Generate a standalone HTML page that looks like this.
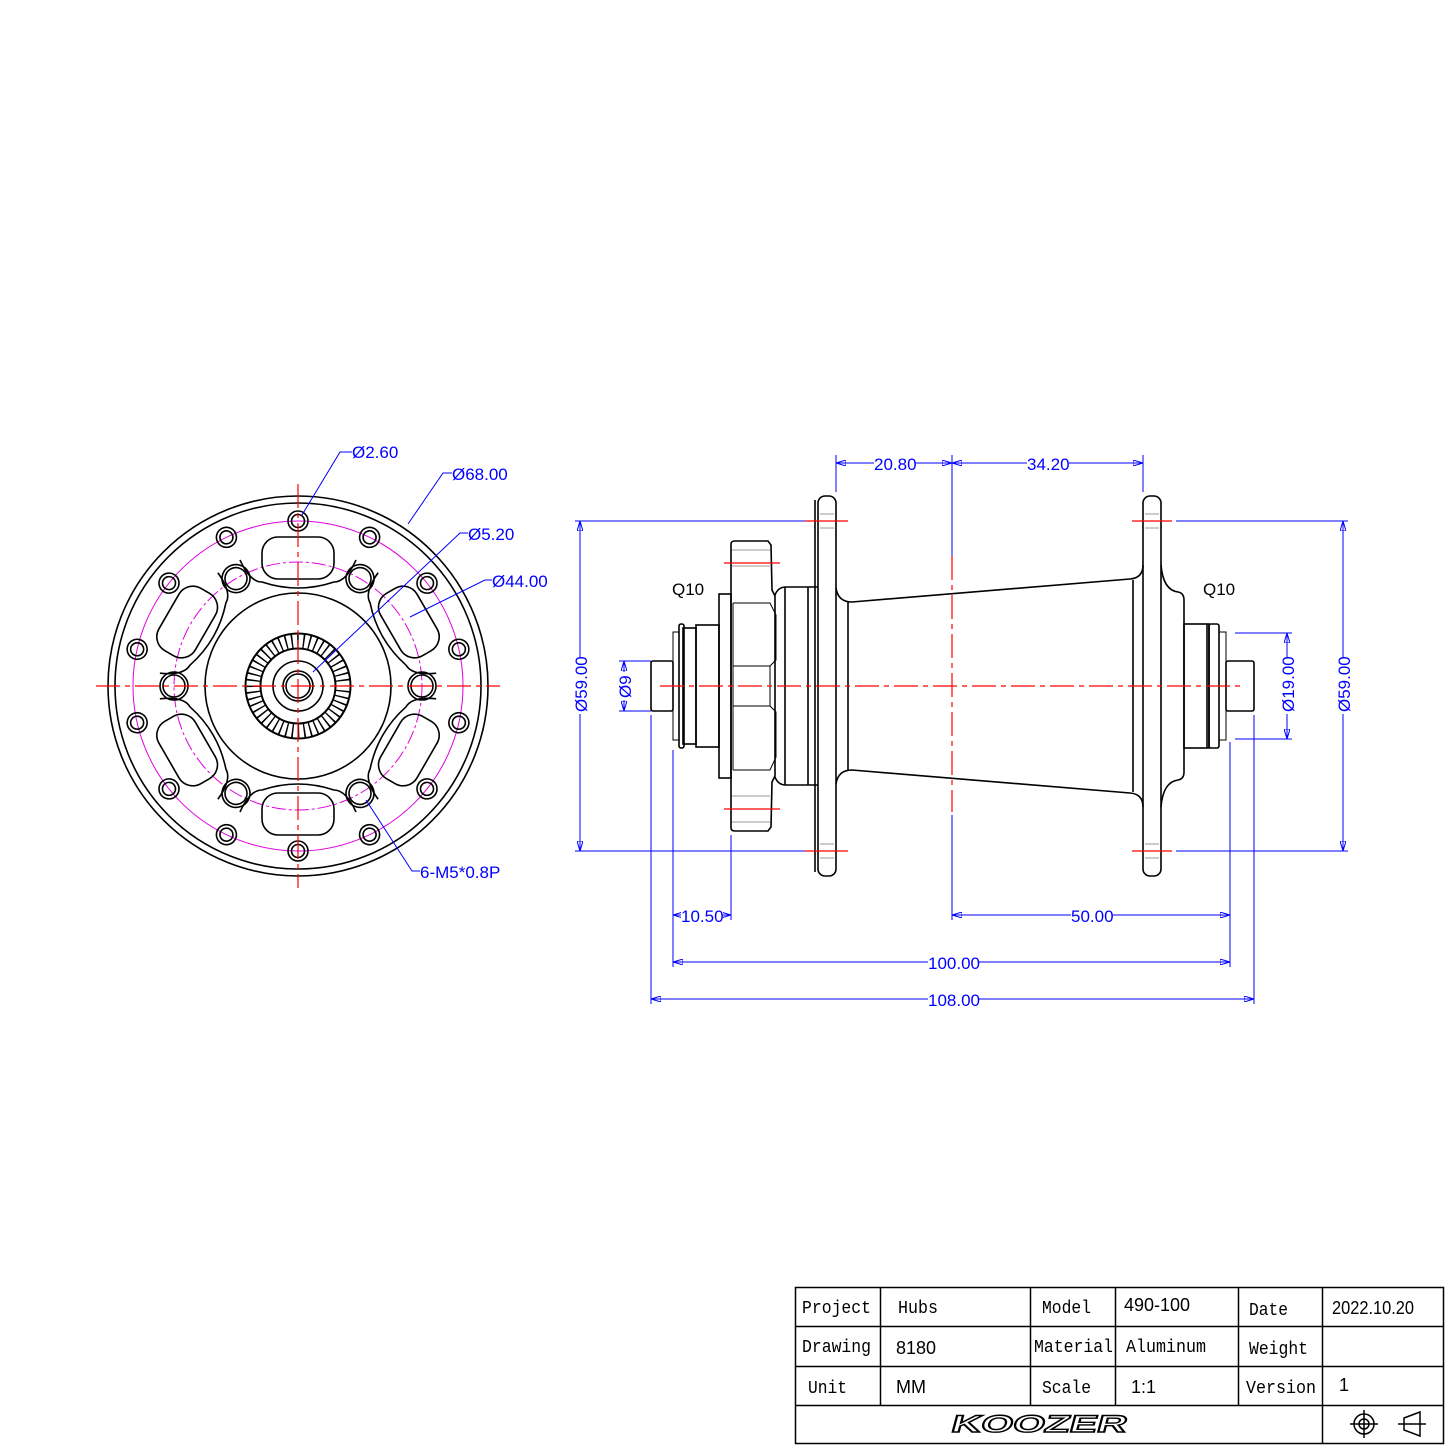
<!DOCTYPE html>
<html><head><meta charset="utf-8"><style>
html,body{margin:0;padding:0;background:#fff}
svg{display:block}
.k{fill:none;stroke:#000;stroke-width:1.6}
.kt{fill:none;stroke:#000;stroke-width:1}
.b{fill:none;stroke:#0000ff;stroke-width:1}
.r{fill:none;stroke:#ff0000;stroke-width:1.2;stroke-dasharray:24 5 5 5}
.p{fill:none;stroke:#e000e0;stroke-width:1;stroke-dasharray:14 3 3 3}
.g{fill:none;stroke:#999;stroke-width:1}
text.d{font-family:"Liberation Sans",Arial,sans-serif;font-size:17px;fill:#0000ff}
text.q{font-family:"Liberation Sans",Arial,sans-serif;font-size:17px;fill:#000}
text.m{font-family:"Liberation Mono","DejaVu Sans Mono",monospace;font-size:18px;fill:#000}
text.s{font-family:"Liberation Sans",Arial,sans-serif;font-size:18px;fill:#000}
</style></head><body>
<svg width="1445" height="1445" viewBox="0 0 1445 1445" xmlns="http://www.w3.org/2000/svg">
<defs>
<marker id="a" viewBox="0 0 10 6" refX="10" refY="3" markerWidth="10" markerHeight="6" orient="auto-start-reverse" markerUnits="userSpaceOnUse"><path d="M0,0 L10,3 L0,6 Z" fill="none" stroke="#0000ff" stroke-width="1"/></marker>
</defs>

<g transform="translate(298,686)">
<circle class="k" r="190"/>
<circle class="k" r="183"/>
<circle class="p" r="165" style="stroke-dasharray:none"/>
<circle class="p" r="124"/>
<circle class="k" r="93"/>
<g id="hole"><circle class="k" cx="0" cy="-165" r="10"/><circle class="k" cx="0" cy="-165" r="6.5"/></g>
<use href="#hole" transform="rotate(25.714)"/><use href="#hole" transform="rotate(51.43)"/><use href="#hole" transform="rotate(77.14)"/>
<use href="#hole" transform="rotate(102.86)"/><use href="#hole" transform="rotate(128.57)"/><use href="#hole" transform="rotate(154.29)"/>
<use href="#hole" transform="rotate(180)"/><use href="#hole" transform="rotate(205.71)"/><use href="#hole" transform="rotate(231.43)"/>
<use href="#hole" transform="rotate(257.14)"/><use href="#hole" transform="rotate(282.86)"/><use href="#hole" transform="rotate(308.57)"/>
<use href="#hole" transform="rotate(334.29)"/>
<g id="th"><circle class="k" cx="124" cy="0" r="14"/><circle class="k" cx="124" cy="0" r="11"/></g>
<use href="#th" transform="rotate(60)"/><use href="#th" transform="rotate(120)"/><use href="#th" transform="rotate(180)"/><use href="#th" transform="rotate(240)"/><use href="#th" transform="rotate(300)"/>
<g id="sl"><rect class="k" x="-36" y="-149" width="72" height="42" rx="16"/><path class="k" d="M-58,-126 Q-48,-104 -36,-104 Q-18,-98 0,-98 Q18,-98 36,-104 Q48,-104 58,-126"/></g>
<use href="#sl" transform="rotate(60)"/><use href="#sl" transform="rotate(120)"/><use href="#sl" transform="rotate(180)"/><use href="#sl" transform="rotate(240)"/><use href="#sl" transform="rotate(300)"/>
<circle r="45" fill="none" stroke="#000" stroke-width="17"/>
<circle r="45" fill="none" stroke="#fff" stroke-width="13" stroke-dasharray="4.4 1.5"/>
<circle class="k" r="25"/>
<circle class="k" r="15"/>
<circle class="k" r="12"/>
</g>
<line class="r" x1="96" y1="686" x2="500" y2="686"/>
<line class="r" x1="298" y1="484" x2="298" y2="888"/>

<polyline class="b" points="302,515 340,452 352,452"/><text class="d" x="352" y="458">Ø2.60</text>
<polyline class="b" points="408,524 443,473 452,473"/><text class="d" x="452" y="480">Ø68.00</text>
<polyline class="b" points="313,672 460,533 468,533"/><text class="d" x="468" y="540">Ø5.20</text>
<polyline class="b" points="410,617 485,580 492,580"/><text class="d" x="492" y="587">Ø44.00</text>
<polyline class="b" points="366,800 412,871 420,871"/><text class="d" x="420" y="878">6-M5*0.8P</text>

<rect class="k" x="818" y="496" width="18" height="380" rx="7"/>
<line class="g" x1="820" y1="514" x2="834" y2="514"/><line class="g" x1="820" y1="528" x2="834" y2="528"/>
<line class="g" x1="820" y1="844" x2="834" y2="844"/><line class="g" x1="820" y1="858" x2="834" y2="858"/>
<rect class="k" x="1143" y="496" width="18" height="380" rx="7"/>
<line class="g" x1="1145" y1="514" x2="1159" y2="514"/><line class="g" x1="1145" y1="528" x2="1159" y2="528"/>
<line class="g" x1="1145" y1="844" x2="1159" y2="844"/><line class="g" x1="1145" y1="858" x2="1159" y2="858"/>
<path class="k" d="M836,588 Q838,602 852,602 L1130,579 Q1143,578 1143,565 M836,784 Q838,770 852,770 L1130,793 Q1143,794 1143,807"/>
<line class="k" x1="848" y1="602" x2="848" y2="770"/>
<line class="k" x1="1133" y1="580" x2="1133" y2="792"/>
<path class="k" d="M818,587 L786,587 Q778,587 775,595 M818,785 L786,785 Q778,785 775,777"/>
<line class="k" x1="785" y1="587" x2="785" y2="785"/>
<line class="k" x1="808" y1="587" x2="808" y2="785"/>
<line class="k" x1="815" y1="500" x2="815" y2="872"/>
<path class="k" d="M731,544 Q731,541 735,541 L768,541 L771,545 L772,590 L775,596 L775,776 L772,782 L771,827 L768,831 L735,831 Q731,831 731,828 Z"/>
<line class="g" x1="732" y1="550" x2="770" y2="550"/><line class="g" x1="732" y1="566" x2="770" y2="566"/>
<line class="g" x1="732" y1="796" x2="770" y2="796"/><line class="g" x1="732" y1="822" x2="770" y2="822"/>
<path class="kt" d="M733,603 L770,603 L776,615 L776,660 L770,666 L770,706 L776,712 L776,757 L770,770 L733,770 M733,666 L770,666 M733,706 L770,706 M733,603 L733,770"/>
<rect class="k" x="719" y="594" width="12" height="184"/>
<rect class="k" x="696" y="625" width="23" height="122"/>
<rect class="k" x="683" y="628" width="13" height="116"/>
<rect class="k" x="679" y="624" width="5" height="124" rx="2"/>
<rect class="kt" x="673" y="632" width="6" height="108"/>
<rect class="k" x="651" y="661" width="22" height="50" rx="2"/>
<path class="k" d="M1161,565 Q1163,590 1178,592 Q1184,593 1184,600 L1184,772 Q1184,779 1178,780 Q1163,782 1161,807"/>
<rect class="k" x="1184" y="624" width="25" height="124"/>
<line class="k" x1="1207" y1="624" x2="1207" y2="748"/>
<rect class="k" x="1209" y="624" width="10" height="124" rx="2"/>
<rect class="kt" x="1219" y="632" width="7" height="108"/>
<rect class="k" x="1226" y="661" width="28" height="50" rx="2"/>

<line class="r" x1="660" y1="686" x2="1245" y2="686"/>
<line class="r" x1="952" y1="556" x2="952" y2="812"/>
<g class="r" style="stroke-dasharray:none">
<line x1="805" y1="521" x2="848" y2="521"/><line x1="805" y1="851" x2="848" y2="851"/>
<line x1="1132" y1="521" x2="1172" y2="521"/><line x1="1132" y1="851" x2="1172" y2="851"/>
<line x1="724" y1="563" x2="780" y2="563"/><line x1="724" y1="809" x2="780" y2="809"/>
</g>

<text class="q" x="672" y="595">Q10</text>
<text class="q" x="1203" y="595">Q10</text>

<g class="b">
<line x1="836" y1="455" x2="836" y2="492"/><line x1="952" y1="455" x2="952" y2="556"/><line x1="1143" y1="455" x2="1143" y2="492"/>
<line x1="836" y1="463" x2="952" y2="463" marker-start="url(#a)" marker-end="url(#a)"/>
<line x1="952" y1="463" x2="1143" y2="463" marker-start="url(#a)" marker-end="url(#a)"/>
<line x1="575" y1="521" x2="805" y2="521"/><line x1="575" y1="851" x2="805" y2="851"/>
<line x1="580" y1="521" x2="580" y2="851" marker-start="url(#a)" marker-end="url(#a)"/>
<line x1="619" y1="661" x2="651" y2="661"/><line x1="619" y1="711" x2="651" y2="711"/>
<line x1="624" y1="661" x2="624" y2="711" marker-start="url(#a)" marker-end="url(#a)"/>
<line x1="1176" y1="521" x2="1348" y2="521"/><line x1="1176" y1="851" x2="1348" y2="851"/>
<line x1="1343" y1="521" x2="1343" y2="851" marker-start="url(#a)" marker-end="url(#a)"/>
<line x1="1235" y1="633" x2="1292" y2="633"/><line x1="1235" y1="739" x2="1292" y2="739"/>
<line x1="1287" y1="633" x2="1287" y2="739" marker-start="url(#a)" marker-end="url(#a)"/>
<line x1="651" y1="715" x2="651" y2="1004"/><line x1="673" y1="750" x2="673" y2="967"/><line x1="731" y1="835" x2="731" y2="920"/>
<line x1="952" y1="815" x2="952" y2="920"/><line x1="1230" y1="742" x2="1230" y2="967"/><line x1="1254" y1="715" x2="1254" y2="1004"/>
<line x1="673" y1="915" x2="731" y2="915" marker-start="url(#a)" marker-end="url(#a)"/>
<line x1="952" y1="915" x2="1230" y2="915" marker-start="url(#a)" marker-end="url(#a)"/>
<line x1="673" y1="962" x2="1230" y2="962" marker-start="url(#a)" marker-end="url(#a)"/>
<line x1="651" y1="999" x2="1254" y2="999" marker-start="url(#a)" marker-end="url(#a)"/>
</g>
<g>
<rect x="874" y="454" width="42" height="18" fill="#fff"/><text class="d" x="874" y="470">20.80</text>
<rect x="1027" y="454" width="42" height="18" fill="#fff"/><text class="d" x="1027" y="470">34.20</text>
<rect x="681" y="906" width="42" height="18" fill="#fff"/><text class="d" x="681" y="922">10.50</text>
<rect x="1071" y="906" width="42" height="18" fill="#fff"/><text class="d" x="1071" y="922">50.00</text>
<rect x="928" y="953" width="50" height="18" fill="#fff"/><text class="d" x="928" y="969">100.00</text>
<rect x="928" y="990" width="50" height="18" fill="#fff"/><text class="d" x="928" y="1006">108.00</text>
<rect x="571" y="658" width="18" height="56" fill="#fff"/><text class="d" transform="translate(587,712) rotate(-90)">Ø59.00</text>
<rect x="615" y="672" width="18" height="28" fill="#fff"/><text class="d" transform="translate(631,698) rotate(-90)">Ø9</text>
<rect x="1278" y="658" width="18" height="56" fill="#fff"/><text class="d" transform="translate(1294,712) rotate(-90)">Ø19.00</text>
<rect x="1334" y="658" width="18" height="56" fill="#fff"/><text class="d" transform="translate(1350,712) rotate(-90)">Ø59.00</text>
</g>

<g fill="none" stroke="#000" stroke-width="1.5">
<rect x="795.5" y="1287.5" width="648" height="156"/>
<line x1="795" y1="1326.5" x2="1443" y2="1326.5"/><line x1="795" y1="1366.5" x2="1443" y2="1366.5"/><line x1="795" y1="1405.5" x2="1443" y2="1405.5"/>
<line x1="880.5" y1="1287" x2="880.5" y2="1405"/><line x1="1030.5" y1="1287" x2="1030.5" y2="1405"/>
<line x1="1115.5" y1="1287" x2="1115.5" y2="1405"/><line x1="1238.5" y1="1287" x2="1238.5" y2="1405"/>
<line x1="1322.5" y1="1287" x2="1322.5" y2="1443"/>
</g>
<text class="m" x="802" y="1313" textLength="69" lengthAdjust="spacingAndGlyphs">Project</text><text class="m" x="898" y="1313" textLength="40" lengthAdjust="spacingAndGlyphs">Hubs</text>
<text class="m" x="1042" y="1313" textLength="49" lengthAdjust="spacingAndGlyphs">Model</text><text class="s" x="1124" y="1311">490-100</text>
<text class="m" x="1249" y="1315" textLength="39" lengthAdjust="spacingAndGlyphs">Date</text><text class="s" x="1332" y="1314" textLength="82" lengthAdjust="spacingAndGlyphs">2022.10.20</text>
<text class="m" x="802" y="1352" textLength="69" lengthAdjust="spacingAndGlyphs">Drawing</text><text class="s" x="896" y="1354">8180</text>
<text class="m" x="1034" y="1352" textLength="79" lengthAdjust="spacingAndGlyphs">Material</text><text class="m" x="1126" y="1352" textLength="80" lengthAdjust="spacingAndGlyphs">Aluminum</text>
<text class="m" x="1249" y="1354" textLength="59" lengthAdjust="spacingAndGlyphs">Weight</text>
<text class="m" x="808" y="1393" textLength="39" lengthAdjust="spacingAndGlyphs">Unit</text><text class="s" x="896" y="1393">MM</text>
<text class="m" x="1042" y="1393" textLength="49" lengthAdjust="spacingAndGlyphs">Scale</text><text class="s" x="1131" y="1393">1:1</text>
<text class="m" x="1246" y="1393" textLength="70" lengthAdjust="spacingAndGlyphs">Version</text><text class="s" x="1339" y="1391">1</text>
<text x="0" y="0" font-family="Liberation Sans,sans-serif" font-size="24" font-weight="bold" fill="#fff" stroke="#000" stroke-width="1.4" textLength="175" lengthAdjust="spacingAndGlyphs" transform="translate(950,1432) skewX(-15)">KOOZER</text>
<g fill="none" stroke="#000" stroke-width="1.5">
<circle cx="1364" cy="1424" r="10"/><circle cx="1364" cy="1424" r="5"/>
<line x1="1350" y1="1424" x2="1378" y2="1424"/><line x1="1364" y1="1410" x2="1364" y2="1438"/>
<path d="M1404,1418 L1420,1412 L1420,1436 L1404,1430 Z"/><line x1="1398" y1="1424" x2="1426" y2="1424"/>
</g>
</svg>
</body></html>
